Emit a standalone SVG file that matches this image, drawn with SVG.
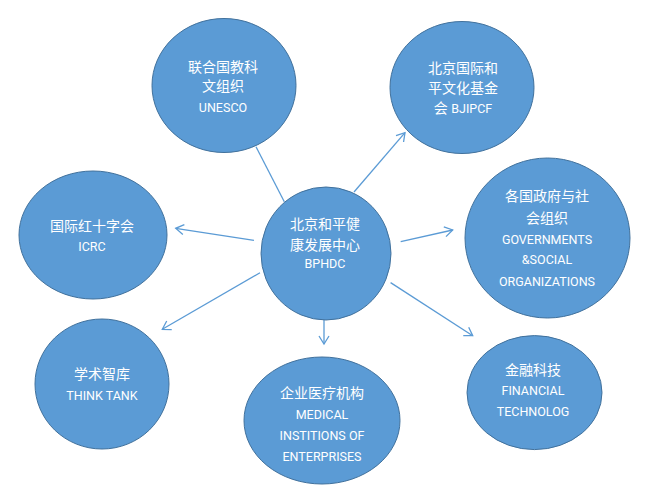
<svg xmlns="http://www.w3.org/2000/svg" width="660" height="498" viewBox="0 0 660 498">
<style>
.n{fill:#5B9BD5;stroke:#41719C;stroke-width:1}
.c{stroke:#5B9BD5;stroke-width:1.3;fill:none}
text{fill:#FFFFFF;font-family:Roboto,"Noto Sans CJK SC",sans-serif;text-anchor:middle}
.z{font-size:14px}
.e{font-size:12.5px}
</style>
<defs>
<marker id="a" markerUnits="userSpaceOnUse" markerWidth="20" markerHeight="20" refX="0" refY="0" viewBox="-10 -10 20 20" orient="auto">
<path d="M-8,-5 L0,0 L-8,5" fill="none" stroke="#5B9BD5" stroke-width="1.3"/>
</marker>
</defs>
<rect width="660" height="498" fill="#FFFFFF"/>
<g id="connectors">
<line class="c" x1="284.3" y1="201.7" x2="256" y2="146.7"/>
<line class="c" x1="354" y1="192" x2="405" y2="132.7" marker-end="url(#a)"/>
<line class="c" x1="254" y1="240.3" x2="175.7" y2="228.3" marker-end="url(#a)"/>
<line class="c" x1="400.7" y1="241.7" x2="452.7" y2="230" marker-end="url(#a)"/>
<line class="c" x1="260" y1="272.7" x2="162.3" y2="329.3" marker-end="url(#a)"/>
<line class="c" x1="324" y1="316.7" x2="324" y2="344" marker-end="url(#a)"/>
<line class="c" x1="390.6" y1="282.6" x2="472.7" y2="335.7" marker-end="url(#a)"/>
</g>
<g id="unesco">
<ellipse class="n" cx="224" cy="85.5" rx="72" ry="67"/>
<text class="z" x="223" y="72">联合国教科</text>
<text class="z" x="223" y="91">文组织</text>
<text class="e" x="223" y="112">UNESCO</text>
</g>
<g id="bjipcf">
<ellipse class="n" cx="462" cy="87.5" rx="72" ry="66"/>
<text class="z" x="463" y="73">北京国际和</text>
<text class="z" x="463" y="93">平文化基金</text>
<text x="463" y="113"><tspan class="z">会 </tspan><tspan class="e">BJIPCF</tspan></text>
</g>
<g id="bphdc">
<ellipse class="n" cx="326" cy="253.5" rx="65" ry="66.5"/>
<text class="z" x="325" y="229">北京和平健</text>
<text class="z" x="325" y="250">康发展中心</text>
<text class="e" x="325" y="268">BPHDC</text>
</g>
<g id="icrc">
<ellipse class="n" cx="93" cy="235" rx="74" ry="64"/>
<text class="z" x="92" y="230.5">国际红十字会</text>
<text class="e" x="92" y="251">ICRC</text>
</g>
<g id="gov">
<ellipse class="n" cx="547.5" cy="238" rx="82.5" ry="80"/>
<text class="z" x="547" y="201">各国政府与社</text>
<text class="z" x="547" y="222.5">会组织</text>
<text class="e" x="547" y="244">GOVERNMENTS</text>
<text class="e" x="547" y="264">&amp;SOCIAL</text>
<text class="e" x="547" y="285.5">ORGANIZATIONS</text>
</g>
<g id="thinktank">
<ellipse class="n" cx="102" cy="384" rx="67" ry="65"/>
<text class="z" x="102" y="378.5">学术智库</text>
<text class="e" x="102" y="400">THINK TANK</text>
</g>
<g id="medical">
<ellipse class="n" cx="322" cy="420.5" rx="78" ry="63.5"/>
<text class="z" x="322" y="398">企业医疗机构</text>
<text class="e" x="322" y="418.5">MEDICAL</text>
<text class="e" x="322" y="440">INSTITIONS OF</text>
<text class="e" x="322" y="460.5">ENTERPRISES</text>
</g>
<g id="fintech">
<ellipse class="n" cx="534.5" cy="392.6" rx="67.5" ry="57"/>
<text class="z" x="533" y="375">金融科技</text>
<text class="e" x="533" y="395">FINANCIAL</text>
<text class="e" x="533" y="416">TECHNOLOG</text>
</g>
</svg>
